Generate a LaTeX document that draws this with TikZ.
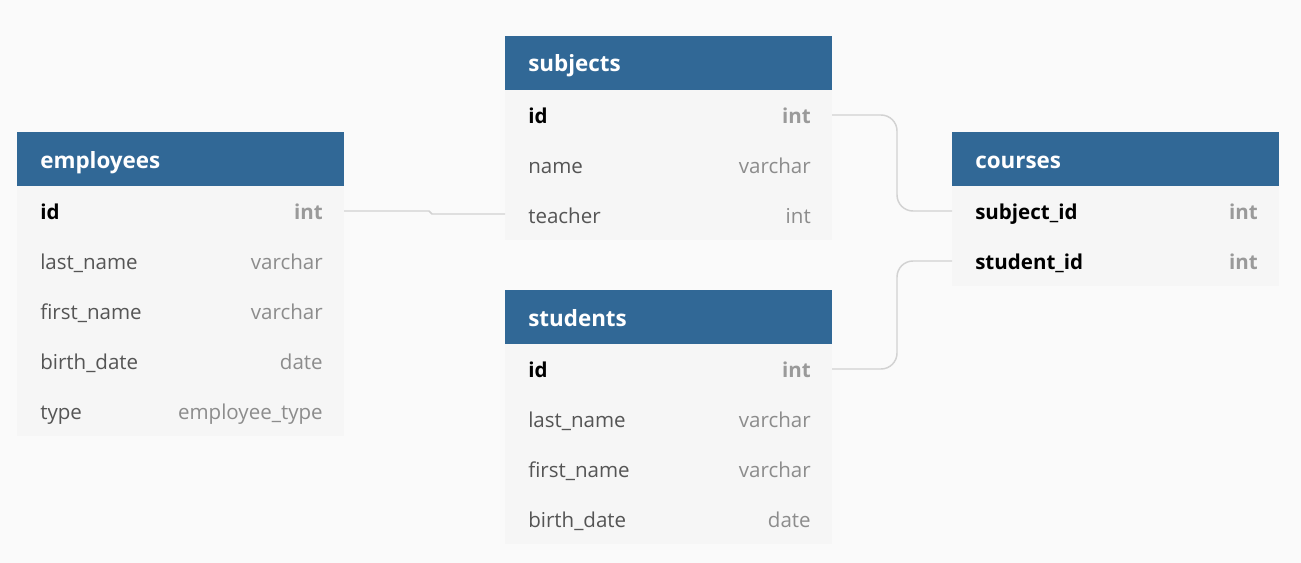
\documentclass[tikz,border=0pt]{standalone}
\usepackage{fontspec}
\setmainfont{Open Sans}
\definecolor{bgc}{HTML}{FAFAFA}
\definecolor{hdr}{HTML}{316896}
\definecolor{rowc}{HTML}{F6F6F6}
\definecolor{fname}{HTML}{555555}
\definecolor{ftype}{HTML}{8C8C8C}
\definecolor{ftypeb}{HTML}{9A9A9A}
\definecolor{linec}{HTML}{D2D2D2}
\begin{document}
\begin{tikzpicture}[x=0.75pt,y=-0.75pt,
  hdrbox/.style={fill=hdr,draw=none},
  rowbox/.style={fill=rowc,draw=none},
  htext/.style={anchor=base west,yshift=-1.5,text=white,font=\fontsize{16.8}{19}\selectfont\bfseries,inner sep=0pt},
  ntext/.style={anchor=base west,yshift=-1,text=fname,font=\fontsize{15.4}{18}\selectfont,inner sep=0pt},
  nbtext/.style={anchor=base west,yshift=-1,text=black,font=\fontsize{15.4}{18}\selectfont\bfseries,inner sep=0pt},
  ttext/.style={anchor=base east,yshift=-1,text=ftype,font=\fontsize{15.4}{18}\selectfont,inner sep=0pt},
  tbtext/.style={anchor=base east,yshift=-1,text=ftypeb,font=\fontsize{15.4}{18}\selectfont\bfseries,inner sep=0pt},
  conn/.style={draw=linec,line width=1.1pt,rounded corners=12pt}]
\fill[bgc] (0,0) rectangle (1301,563);
\useasboundingbox (0,0) rectangle (1301,563);

% employees
\fill[rowbox] (17,186) rectangle (344,436);
\fill[hdrbox] (17,132) rectangle (344,186);
\node[htext] (empH) at (40,166) {employees};
\node[nbtext] (empId) at (40,218) {id};
\node[tbtext] (empIdT) at (323,218) {int};
\node[ntext] (empLn) at (40,268) {last\_name};
\node[ttext] (empLnT) at (323,268) {varchar};
\node[ntext] (empFn) at (40,318) {first\_name};
\node[ttext] (empFnT) at (323,318) {varchar};
\node[ntext] (empBd) at (40,368) {birth\_date};
\node[ttext] (empBdT) at (323,368) {date};
\node[ntext] (empTy) at (40,418) {type};
\node[ttext] (empTyT) at (323,418) {employee\_type};
\coordinate (empIdR) at (344,211);

% subjects
\fill[rowbox] (505,90) rectangle (832,240);
\fill[hdrbox] (505,36) rectangle (832,90);
\node[htext] (subH) at (528,70) {subjects};
\node[nbtext] (subId) at (528,122) {id};
\node[tbtext] (subIdT) at (811,122) {int};
\node[ntext] (subNm) at (528,172) {name};
\node[ttext] (subNmT) at (811,172) {varchar};
\node[ntext] (subTe) at (528,222) {teacher};
\node[ttext] (subTeT) at (811,222) {int};
\coordinate (subIdR) at (832,115);
\coordinate (subTeL) at (505,214);

% students
\fill[rowbox] (505,344) rectangle (832,544);
\fill[hdrbox] (505,290) rectangle (832,344);
\node[htext] (stuH) at (528,324) {students};
\node[nbtext] (stuId) at (528,376) {id};
\node[tbtext] (stuIdT) at (811,376) {int};
\node[ntext] (stuLn) at (528,426) {last\_name};
\node[ttext] (stuLnT) at (811,426) {varchar};
\node[ntext] (stuFn) at (528,476) {first\_name};
\node[ttext] (stuFnT) at (811,476) {varchar};
\node[ntext] (stuBd) at (528,526) {birth\_date};
\node[ttext] (stuBdT) at (811,526) {date};
\coordinate (stuIdR) at (832,369);

% courses
\fill[rowbox] (952,186) rectangle (1279,286);
\fill[hdrbox] (952,132) rectangle (1279,186);
\node[htext] (couH) at (975,166) {courses};
\node[nbtext] (couSu) at (975,218) {subject\_id};
\node[tbtext] (couSuT) at (1258,218) {int};
\node[nbtext] (couSt) at (975,268) {student\_id};
\node[tbtext] (couStT) at (1258,268) {int};
\coordinate (couSuL) at (952,211);
\coordinate (couStL) at (952,261);

% connectors
\draw[draw=linec,line width=1.1pt] (empIdR) -- (429,211) -- (432,214) -- (subTeL);
\draw[conn] (subIdR) -- (897,115) -- (897,211) -- (couSuL);
\draw[conn] (stuIdR) -- (897,369) -- (897,261) -- (couStL);
\end{tikzpicture}
\end{document}
